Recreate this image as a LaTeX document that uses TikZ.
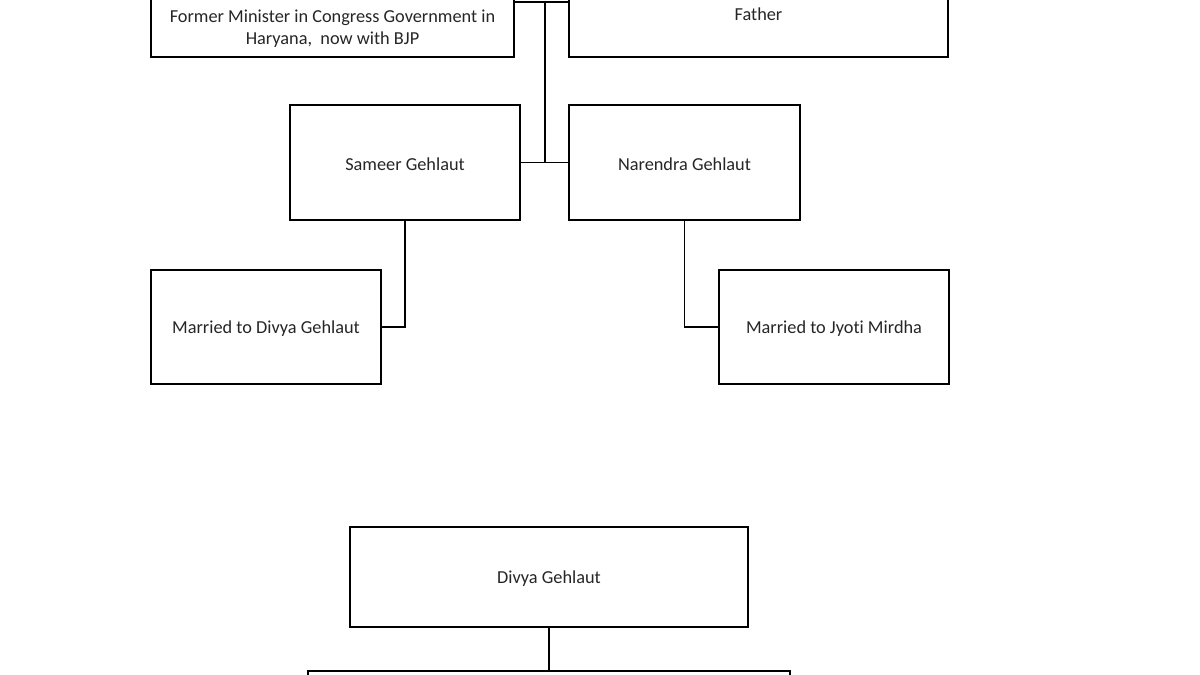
\documentclass[tikz,border=0pt]{standalone}
\usepackage{fontspec}
\setmainfont[Ligatures=NoCommon]{Carlito}
\begin{document}
\begin{tikzpicture}[x=1pt,y=-1pt,
  box/.style={draw=black, line width=1.9pt, fill=white, rectangle, inner sep=0pt},
  lbl/.style={font=\fontsize{18.3}{22}\selectfont, text=black!85, align=center, inner sep=0pt, yshift=-1.5pt},
  link/.style={draw=black, line width=1.9pt}]
\useasboundingbox (0,0) rectangle (1200,675);
\clip (0,0) rectangle (1200,675);
% boxes
\node[box, minimum width=363pt, minimum height=60pt] (lt) at (332.5,27) {};
\node[lbl] (ltt) at (lt.center) {Former Minister in Congress Government in\\Haryana,\ \ now with BJP};
\node[box, minimum width=379pt, minimum height=88pt] (rt) at (758.5,13) {};
\node[lbl] (rtt) at (rt.center) {Father};
\node[box, minimum width=230pt, minimum height=115pt] (sg) at (405,162.5) {};
\node[lbl] (sgt) at (sg.center) {Sameer Gehlaut};
\node[box, minimum width=231pt, minimum height=115pt] (ng) at (684.5,162.5) {};
\node[lbl] (ngt) at (ng.center) {Narendra Gehlaut};
\node[box, minimum width=230pt, minimum height=114pt] (md) at (266,327) {};
\node[lbl] (mdt) at (md.center) {Married to Divya Gehlaut};
\node[box, minimum width=230pt, minimum height=114pt] (mj) at (834,327) {};
\node[lbl] (mjt) at (mj.center) {Married to Jyoti Mirdha};
\node[box, minimum width=398pt, minimum height=100pt] (dg) at (549,577) {};
\node[lbl] (dgt) at (dg.center) {Divya Gehlaut};
\node[box, minimum width=482pt, minimum height=60pt] (bt) at (549,701) {};
% connectors
\coordinate (m) at (545,2);
\draw[link] (lt.east |- m) -- (rt.west |- m);
\draw[link] (m) -- (m |- sg.east);
\draw[link] (sg.east) -- (ng.west);
\draw[link] (sg.south) |- (md.east);
\draw[link] (ng.south) |- (mj.west);
\draw[link] (dg.south) -- (bt.north);
\end{tikzpicture}
\end{document}
